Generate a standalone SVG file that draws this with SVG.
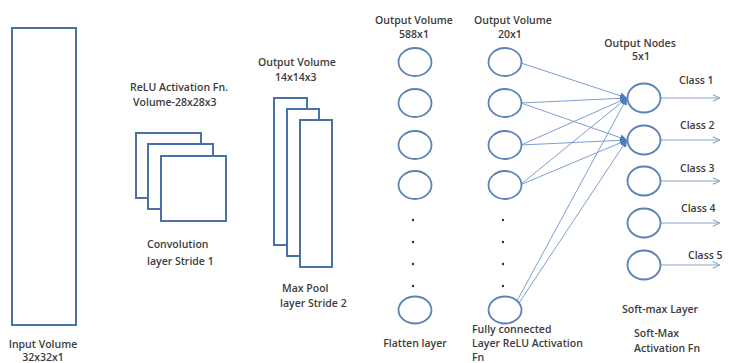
<svg xmlns="http://www.w3.org/2000/svg" width="731" height="363" viewBox="0 0 731 363">
<defs>
<style>
.box{fill:#ffffff;stroke:#4a72a8;stroke-width:2}
.nd{fill:#ffffff;stroke:#5b83b5;stroke-width:1.8}
.t{font-family:"Open Sans","Liberation Sans",sans-serif;font-size:10.5px;font-weight:600;fill:#3c3c3c}
.dot{fill:#333333}
.ln{stroke:#7f9fcc;stroke-width:1;fill:none}
.out{stroke:#8aa3c4;stroke-width:1.2;fill:none}
</style>
<marker id="ah" viewBox="0 0 10 10" refX="10" refY="5" markerWidth="7" markerHeight="7" markerUnits="userSpaceOnUse" orient="auto">
<path d="M0,0 L10,5 L0,10 Z" fill="#4f7bbd"/>
</marker>
<marker id="oh" viewBox="0 0 10 10" refX="10" refY="5" markerWidth="8" markerHeight="8" markerUnits="userSpaceOnUse" orient="auto">
<path d="M1,1 L10,5 L1,9" fill="none" stroke="#8aa3c4" stroke-width="1.3"/>
</marker>
</defs>
<rect width="731" height="363" fill="#ffffff"/>

<g id="connectors">
<line class="ln" x1="521" y1="63" x2="627" y2="98" marker-end="url(#ah)"/>
<line class="ln" x1="521" y1="103" x2="627" y2="98" marker-end="url(#ah)"/>
<line class="ln" x1="521" y1="103" x2="627" y2="140" marker-end="url(#ah)"/>
<line class="ln" x1="521" y1="145" x2="627" y2="98" marker-end="url(#ah)"/>
<line class="ln" x1="521" y1="145" x2="627" y2="140" marker-end="url(#ah)"/>
<line class="ln" x1="520" y1="185" x2="627" y2="98" marker-end="url(#ah)"/>
<line class="ln" x1="520" y1="185" x2="627" y2="140" marker-end="url(#ah)"/>
<line class="ln" x1="517" y1="301" x2="627" y2="98" marker-end="url(#ah)"/>
<line class="ln" x1="519" y1="303" x2="627" y2="140" marker-end="url(#ah)"/>
<line class="out" x1="661" y1="98" x2="720" y2="98" marker-end="url(#oh)"/>
<line class="out" x1="661" y1="140" x2="720" y2="140" marker-end="url(#oh)"/>
<line class="out" x1="661" y1="181" x2="720" y2="181" marker-end="url(#oh)"/>
<line class="out" x1="661" y1="223" x2="720" y2="223" marker-end="url(#oh)"/>
<line class="out" x1="661" y1="265" x2="720" y2="265" marker-end="url(#oh)"/>
</g>

<g id="input">
<rect class="box" x="12" y="28" width="64" height="297"/>
<text class="t" x="43" y="348" text-anchor="middle">Input Volume</text>
<text class="t" x="43" y="361" text-anchor="middle">32x32x1</text>
</g>

<g id="conv">
<text class="t" x="130" y="91">ReLU Activation Fn.</text>
<text class="t" x="133" y="106">Volume-28x28x3</text>
<rect class="box" x="136" y="133" width="65" height="65"/>
<rect class="box" x="148" y="144" width="65" height="65"/>
<rect class="box" x="161" y="156" width="65" height="65"/>
<text class="t" x="147" y="248">Convolution</text>
<text class="t" x="147" y="265">layer Stride 1</text>
</g>

<g id="pool">
<text class="t" x="258" y="66">Output Volume</text>
<text class="t" x="275" y="81">14x14x3</text>
<rect class="box" x="274" y="98" width="33" height="147"/>
<rect class="box" x="287" y="109" width="32" height="147"/>
<rect class="box" x="300" y="120" width="32" height="147"/>
<text class="t" x="282" y="292">Max Pool</text>
<text class="t" x="280" y="307">layer Stride  2</text>
</g>

<g id="flatten">
<text class="t" x="414" y="24" text-anchor="middle">Output Volume</text>
<text class="t" x="414" y="38" text-anchor="middle">588x1</text>
<ellipse class="nd" cx="415" cy="62" rx="16.5" ry="14"/>
<ellipse class="nd" cx="415" cy="103" rx="16.5" ry="14"/>
<ellipse class="nd" cx="415" cy="145" rx="16.5" ry="14"/>
<ellipse class="nd" cx="415" cy="185" rx="16.5" ry="14"/>
<circle class="dot" cx="413" cy="220" r="1.2"/>
<circle class="dot" cx="413" cy="242" r="1.2"/>
<circle class="dot" cx="413" cy="264" r="1.2"/>
<circle class="dot" cx="413" cy="286" r="1.2"/>
<ellipse class="nd" cx="415" cy="310" rx="16.5" ry="13.5"/>
<text class="t" x="415" y="347" text-anchor="middle">Flatten layer</text>
</g>

<g id="fc">
<text class="t" x="474" y="24">Output Volume</text>
<text class="t" x="498" y="38">20x1</text>
<ellipse class="nd" cx="505" cy="62" rx="16.5" ry="14"/>
<ellipse class="nd" cx="505" cy="103" rx="16.5" ry="14"/>
<ellipse class="nd" cx="505" cy="145" rx="16.5" ry="14"/>
<ellipse class="nd" cx="505" cy="185" rx="16.5" ry="14"/>
<circle class="dot" cx="503" cy="220" r="1.2"/>
<circle class="dot" cx="503" cy="242" r="1.2"/>
<circle class="dot" cx="503" cy="264" r="1.2"/>
<circle class="dot" cx="503" cy="286" r="1.2"/>
<ellipse class="nd" cx="505" cy="310" rx="16.5" ry="13.5"/>
<text class="t" x="472" y="333">Fully connected</text>
<text class="t" x="472" y="347">Layer ReLU Activation</text>
<text class="t" x="472" y="361">Fn</text>
</g>

<g id="softmax">
<text class="t" x="640" y="47" text-anchor="middle">Output Nodes</text>
<text class="t" x="641" y="60" text-anchor="middle">5x1</text>
<ellipse class="nd" cx="644" cy="98" rx="16.5" ry="14.5"/>
<ellipse class="nd" cx="644" cy="140" rx="16.5" ry="14.5"/>
<ellipse class="nd" cx="644" cy="181" rx="16.5" ry="14.5"/>
<ellipse class="nd" cx="644" cy="223" rx="16.5" ry="14.5"/>
<ellipse class="nd" cx="644" cy="265" rx="16.5" ry="14.5"/>
<text class="t" x="679" y="84">Class  1</text>
<text class="t" x="680" y="129">Class  2</text>
<text class="t" x="680" y="172">Class  3</text>
<text class="t" x="681" y="212">Class  4</text>
<text class="t" x="688" y="259">Class  5</text>
<text class="t" x="622" y="313">Soft-max Layer</text>
<text class="t" x="634" y="337">Soft-Max</text>
<text class="t" x="634" y="352">Activation Fn</text>
</g>
</svg>
